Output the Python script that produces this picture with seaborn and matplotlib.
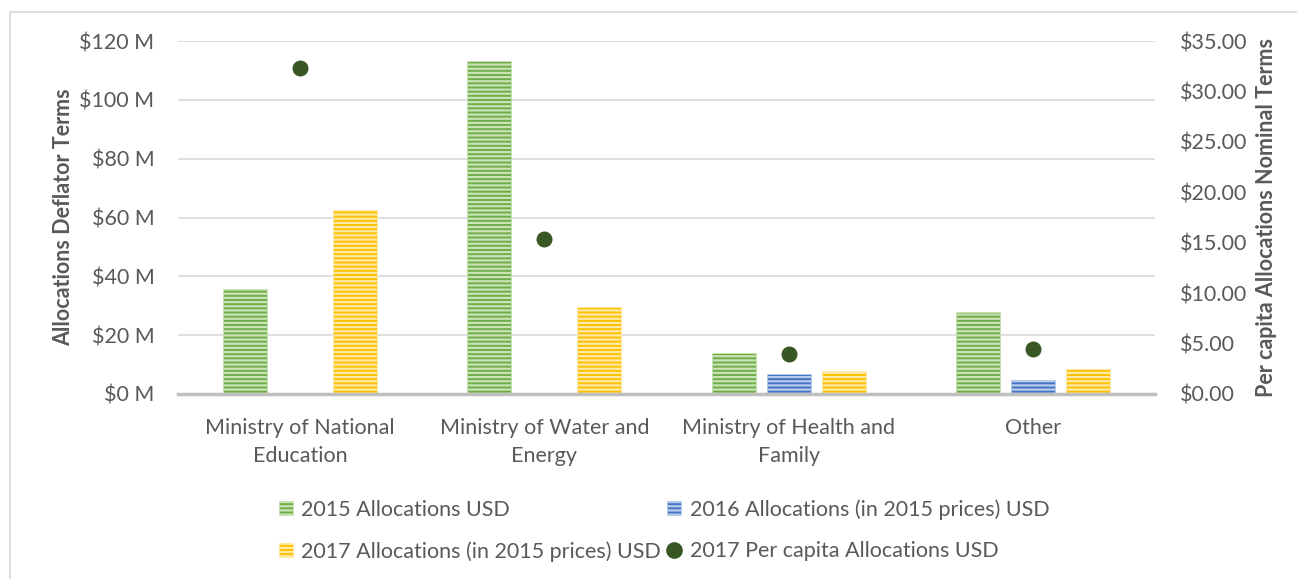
import numpy as np
import pandas as pd
import matplotlib
matplotlib.use("Agg")
import matplotlib.pyplot as plt
import seaborn as sns
from matplotlib.patches import Patch, Rectangle
from matplotlib.lines import Line2D

# data
categories = ["Ministry of National\nEducation", "Ministry of Water and\nEnergy",
              "Ministry of Health and\nFamily", "Other"]
alloc_2015 = [35.8, 113.2, 13.8, 28.0]        # $M
alloc_2016 = [0.0, 0.0, 6.9, 4.8]             # $M, 2015 prices
alloc_2017 = [62.5, 29.7, 7.8, 8.5]           # $M, 2015 prices
percap_2017 = [32.3, 15.4, 3.95, 4.45]        # USD per capita
series = ["2015 Allocations USD", "2016 Allocations (in 2015 prices) USD",
          "2017 Allocations (in 2015 prices) USD"]
dot_label = "2017 Per capita Allocations USD"

colors = ["#70AD47", "#4472C4", "#FFC000"]
stripe = ["#C9E3B8", "#B8CBEA", "#FFE9A6"]
dot_color = "#385723"
txt = "#595959"
fs = 15.5

df = pd.DataFrame({
    "category": categories * 3,
    "series": np.repeat(series, len(categories)),
    "value": alloc_2015 + alloc_2016 + alloc_2017,
})

sns.set_style("white")
plt.rcParams["font.family"] = ["Lato", "DejaVu Sans"]
plt.rcParams["hatch.linewidth"] = 1.6

fig = plt.figure(figsize=(12.97, 5.79), dpi=100)
ax = fig.add_axes([178 / 1297, 1 - 394 / 579, (1155 - 178) / 1297, (394 - 41) / 579])

sns.barplot(data=df, x="category", y="value", hue="series", palette=colors,
            width=0.675, gap=0.2, ax=ax, legend=False, saturation=1)
for cont, sc in zip(ax.containers, stripe):
    for p in cont:
        p.set_hatch("----")
        p.set_edgecolor(sc)
        p.set_linewidth(0.6)

ax.set_ylim(0, 120)
ax.set_yticks(np.arange(0, 121, 20))
ax.set_yticklabels([f"${v} M" for v in range(0, 121, 20)])
ax.set_xlim(-0.5, 3.5)
ax.grid(axis="y", color="#D9D9D9", lw=1.2)
ax.set_axisbelow(True)
for s in ["top", "right", "left"]:
    ax.spines[s].set_visible(False)
ax.spines["bottom"].set_color("#BFBFBF")
ax.spines["bottom"].set_linewidth(2.5)
ax.tick_params(axis="both", length=0, labelsize=fs, colors=txt)
ax.tick_params(axis="y", pad=17)
ax.tick_params(axis="x", pad=17)
for t in ax.get_xticklabels():
    t.set_linespacing(1.5)
ax.set_xlabel("")
ax.set_ylabel("Allocations Deflator Terms", fontsize=fs, fontweight="bold",
              color=txt, labelpad=4)

ax2 = ax.twinx()
sns.stripplot(x=categories, y=percap_2017, ax=ax2, jitter=False, color=dot_color,
              size=11.5, linewidth=0, zorder=5)
ax2.set_xlim(-0.5, 3.5)
ax2.set_ylim(0, 35)
ax2.set_yticks(np.arange(0, 36, 5))
ax2.set_yticklabels([f"${v:.2f}" for v in range(0, 36, 5)])
for s in ["top", "right", "left", "bottom"]:
    ax2.spines[s].set_visible(False)
ax2.tick_params(axis="y", length=0, labelsize=fs, colors=txt, pad=18)
ax2.set_ylabel("Per capita Allocations Nominal Terms", fontsize=fs,
               fontweight="bold", color=txt, labelpad=6)

handles = [Patch(facecolor=c, edgecolor=s, hatch="----", lw=0.6) for c, s in zip(colors, stripe)]
dot = Line2D([], [], marker="o", ls="", color=dot_color, markersize=11)
# ncol=2 fills by column, so order for rows: 2015, 2016 / 2017, dot
leg = fig.legend([handles[0], handles[2], handles[1], dot],
                 [series[0], series[2], series[1], dot_label],
                 ncol=2, loc="center", bbox_to_anchor=(0.512, 0.084), frameon=False,
                 fontsize=fs, handlelength=0.65, handleheight=0.65, handletextpad=0.4,
                 labelspacing=1.0, columnspacing=0.3)
for t in leg.get_texts():
    t.set_color(txt)

# outer chart border (left and top visible)
fig.add_artist(Rectangle((10 / 1297, -0.1), 1.2, 1 - 12 / 579 + 0.1,
                         transform=fig.transFigure, fill=False,
                         edgecolor="#D9D9D9", lw=1.2))

fig.savefig("out.png", dpi=100)
